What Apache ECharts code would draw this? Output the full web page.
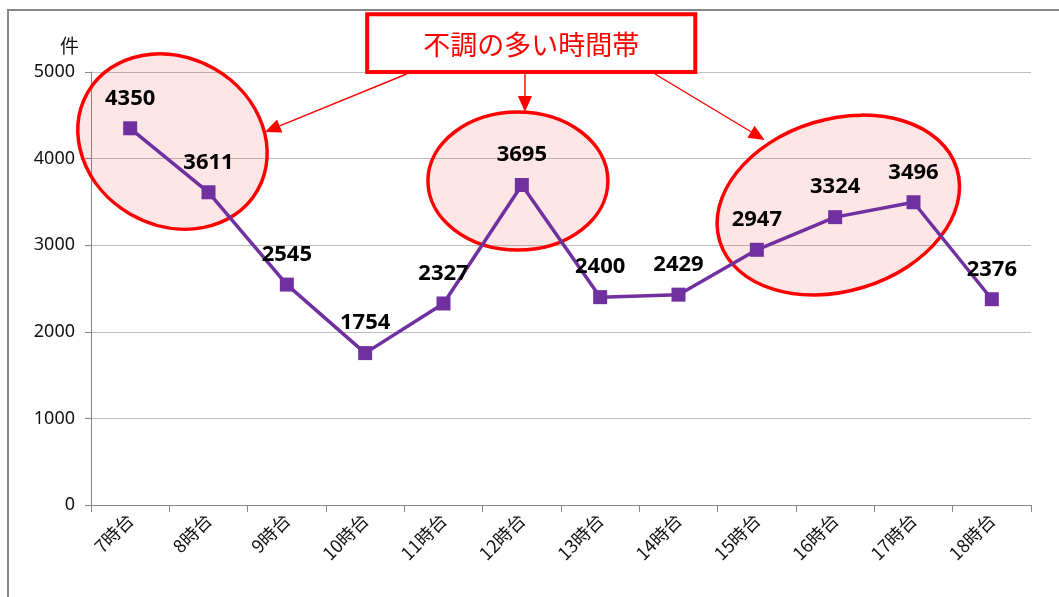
<!DOCTYPE html>
<html>
<head>
<meta charset="utf-8">
<script src="https://cdn.jsdelivr.net/npm/echarts@6/dist/echarts.min.js"></script>
<style>
  html, body { margin: 0; padding: 0; background: #fff; }
  #main { width: 1059px; height: 597px; }
</style>
</head>
<body>
<div id="main"></div>
<script>
// data
const categories = ['7時台', '8時台', '9時台', '10時台', '11時台', '12時台', '13時台', '14時台', '15時台', '16時台', '17時台', '18時台'];
const counts = [4350, 3611, 2545, 1754, 2327, 3695, 2400, 2429, 2947, 3324, 3496, 2376];
const yMin = 0;
const yMax = 5000;
const yStep = 1000;
const unitLabel = '件';
const calloutText = '不調の多い時間帯';

const RED = '#ff0000';
const PURPLE = '#7030a0';
const CJK = '"Noto Sans CJK JP", "Noto Sans", sans-serif';
const NUM = '"Noto Sans", "Liberation Sans", sans-serif';

const chart = echarts.init(document.getElementById('main'));

const option = {
  animation: false,
  grid: { left: 91, right: 28, top: 72, bottom: 92 },
  xAxis: {
    type: 'category',
    data: categories,
    boundaryGap: true,
    axisLine: { lineStyle: { color: '#868686', width: 1 } },
    axisTick: { show: true, length: 7, interval: 0, lineStyle: { color: '#868686' } },
    axisLabel: {
      interval: 0,
      rotate: 45,
      margin: 12,
      color: '#111',
      fontSize: 18,
      fontFamily: CJK
    }
  },
  yAxis: {
    type: 'value',
    min: yMin,
    max: yMax,
    interval: yStep,
    name: unitLabel,
    nameLocation: 'end',
    nameGap: 17,
    nameTextStyle: { color: '#111', fontSize: 19, fontFamily: CJK, align: 'right', padding: [0, 12, 0, 0] },
    axisLine: { show: true, lineStyle: { color: '#868686', width: 1 } },
    axisTick: { show: true, length: 6, lineStyle: { color: '#868686' } },
    axisLabel: { color: '#111', fontSize: 18, fontFamily: NUM, margin: 16, formatter: v => String(v) },
    splitLine: { lineStyle: { color: '#bdbdbd', width: 1 } }
  },
  series: [{
    type: 'line',
    data: counts,
    z: 3,
    symbol: 'rect',
    symbolSize: 14,
    lineStyle: { color: PURPLE, width: 3.5 },
    itemStyle: { color: PURPLE },
    label: {
      show: true,
      position: 'top',
      distance: 12,
      color: '#000',
      fontSize: 22,
      fontWeight: 'bold',
      fontFamily: NUM
    }
  }]
};

chart.setOption(option);

// pixel position for a (possibly fractional) category index and a value
function at(i, v) {
  const a = chart.convertToPixel({ gridIndex: 0 }, [0, v]);
  const b = chart.convertToPixel({ gridIndex: 0 }, [1, v]);
  return [a[0] + (b[0] - a[0]) * i, a[1]];
}

function ellipse(i, v, rx, ry, deg) {
  const c = at(i, v);
  return {
    type: 'ellipse',
    x: c[0], y: c[1],
    rotation: deg * Math.PI / 180,
    z: 1,
    shape: { cx: 0, cy: 0, rx: rx, ry: ry },
    style: { fill: 'rgba(250, 60, 60, 0.13)', stroke: RED, lineWidth: 3.5 }
  };
}

function arrow(from, to) {
  const dx = to[0] - from[0], dy = to[1] - from[1];
  const len = Math.sqrt(dx * dx + dy * dy);
  const ux = dx / len, uy = dy / len;
  const head = 16, half = 7;
  const bx = to[0] - ux * head, by = to[1] - uy * head;
  return [{
    type: 'line', z: 10,
    shape: { x1: from[0], y1: from[1], x2: bx, y2: by },
    style: { stroke: RED, lineWidth: 1.4 }
  }, {
    type: 'polygon', z: 10,
    shape: { points: [to, [bx - uy * half, by + ux * half], [bx + uy * half, by - ux * half]] },
    style: { fill: RED }
  }];
}

const boxTL = at(3.0, 5690);
const boxBR = at(7.24, 5000);
const boxBottom = boxBR[1] + 2;

const elements = [
  {
    type: 'rect', z: 0, silent: true,
    shape: { x: 8, y: 10, width: 1200, height: 800 },
    style: { fill: 'none', stroke: '#878787', lineWidth: 2 }
  },
  ellipse(0.54, 4197, 98, 84, -30),
  ellipse(4.95, 3741, 90, 69, 0),
  ellipse(9.04, 3464, 124, 86, 17),
  {
    type: 'rect', z: 11,
    shape: { x: boxTL[0] + 2, y: boxTL[1] + 2, width: boxBR[0] - boxTL[0] - 4, height: boxBR[1] - boxTL[1] - 2 },
    style: { fill: '#fff', stroke: RED, lineWidth: 4 }
  },
  {
    type: 'text', z: 12,
    x: (boxTL[0] + boxBR[0]) / 2,
    y: (boxTL[1] + boxBR[1]) / 2 + 3,
    style: {
      text: calloutText,
      fill: RED,
      fontSize: 27,
      fontFamily: CJK,
      align: 'center',
      verticalAlign: 'middle'
    }
  }
];

const p1 = at(3.53, 0); const t1 = at(1.72, 4307);
const p2 = at(5.04, 0); const t2 = at(5.04, 4538);
const p3 = at(6.70, 0); const t3 = at(8.10, 4215);
elements.push(...arrow([p1[0], boxBottom], t1));
elements.push(...arrow([p2[0], boxBottom], t2));
elements.push(...arrow([p3[0], boxBottom], t3));

chart.setOption({ graphic: { elements: elements } });
</script>
</body>
</html>
